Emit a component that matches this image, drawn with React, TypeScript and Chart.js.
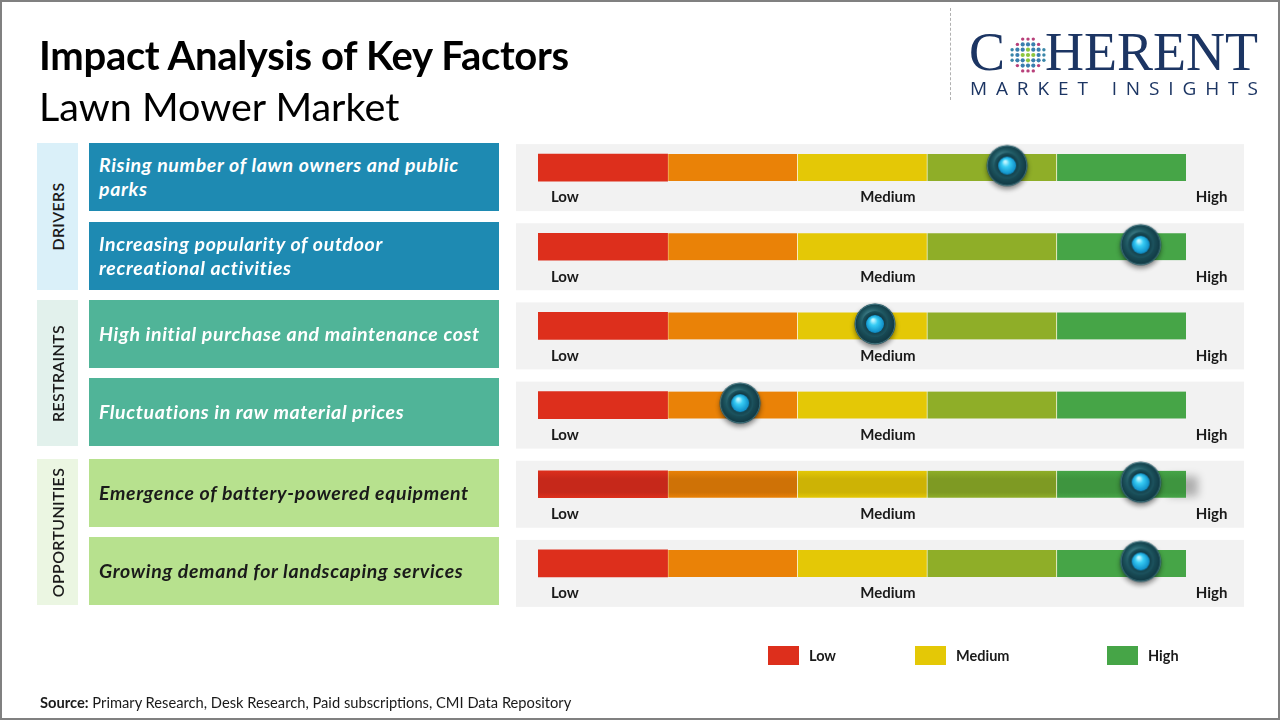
import React, { useEffect, useRef } from "react";
import { Chart, registerables } from "chart.js";

Chart.register(...registerables);

// ---------------- data ----------------
const factors = [
  "Rising number of lawn owners and public parks",
  "Increasing popularity of outdoor recreational activities",
  "High initial purchase and maintenance cost",
  "Fluctuations in raw material prices",
  "Emergence of battery-powered equipment",
  "Growing demand for landscaping services",
];
const groupNames = ["DRIVERS", "RESTRAINTS", "OPPORTUNITIES"];
const factorGroup = [0, 0, 1, 1, 2, 2];
// impact position on a 0..5 gauge (5 equal bands)
const impactValues = [3.62, 4.65, 2.6, 1.56, 4.65, 4.65];
const bandNames = ["Low", "Low-Medium", "Medium", "Medium-High", "High"];
const bandWidths = [1, 1, 1, 1, 1];
const bandColors = ["#dd2f1c", "#ea8207", "#e4c806", "#8fae28", "#46a547"];
const bandShadeColors = ["#c6281a", "#cf7206", "#cdb305", "#7e9a23", "#3e953f"];
const gaugeLabels = ["Low", "Medium", "High"];
const legendLabels = ["Low", "Medium", "High"];
const legendColors = ["#dd2f1c", "#e4c806", "#46a547"];

// ---------------- styles ----------------
const groupStyles = [
  { box: "#1e8ab2", label: "#daf0f9", text: "#ffffff" },
  { box: "#50b498", label: "#e2f1ec", text: "#ffffff" },
  { box: "#b7e18e", label: "#ebf6e2", text: "#1a1a1a" },
];
const rowTops = [143, 222, 300, 378, 459, 537];
const rowH = 68;
const shadedRow = 4;
const FONT = "Lato, 'Open Sans', sans-serif";

function makeKnob(): HTMLCanvasElement {
  const c = document.createElement("canvas");
  c.width = 54;
  c.height = 54;
  const g = c.getContext("2d")!;
  const cx = 27,
    cy = 25;
  g.save();
  g.shadowColor = "rgba(0,0,0,0.45)";
  g.shadowBlur = 5;
  g.shadowOffsetY = 3;
  g.beginPath();
  g.arc(cx, cy, 20.5, 0, Math.PI * 2);
  const outer = g.createRadialGradient(cx - 5, cy - 8, 2, cx, cy, 21);
  outer.addColorStop(0, "#4a8a94");
  outer.addColorStop(0.55, "#1f5862");
  outer.addColorStop(1, "#0f3540");
  g.fillStyle = outer;
  g.fill();
  g.restore();
  g.beginPath();
  g.arc(cx, cy, 19.8, 0, Math.PI * 2);
  g.strokeStyle = "rgba(110,170,180,0.55)";
  g.lineWidth = 1;
  g.stroke();
  g.beginPath();
  g.arc(cx, cy, 13, 0, Math.PI * 2);
  const ring = g.createRadialGradient(cx, cy - 2, 5, cx, cy, 13);
  ring.addColorStop(0, "#0a2830");
  ring.addColorStop(1, "#1d5561");
  g.fillStyle = ring;
  g.fill();
  g.beginPath();
  g.arc(cx, cy, 9, 0, Math.PI * 2);
  const ball = g.createRadialGradient(cx - 2, cy - 4, 1, cx, cy, 9.5);
  ball.addColorStop(0, "#bff5ff");
  ball.addColorStop(0.35, "#38cdf5");
  ball.addColorStop(1, "#0a86c2");
  g.fillStyle = ball;
  g.fill();
  return c;
}

function Globe() {
  const dots: React.ReactElement[] = [];
  const step = 5.3;
  for (let i = -3; i <= 3; i++) {
    for (let j = -3; j <= 3; j++) {
      const d = Math.sqrt(i * i + j * j);
      if (d > 3.25) continue;
      let col = "#8cc63f";
      if (d > 2.3) col = Math.abs(i) >= Math.abs(j) ? "#b8407a" : "#3a86a8";
      else if (d > 1.2) col = "#3a7fae";
      dots.push(
        <circle key={i + "_" + j} cx={20 + j * step} cy={20 + i * step} r={d > 2.3 ? 1.7 : 2.1} fill={col} />
      );
    }
  }
  return (
    <svg width={40} height={40} style={{ position: "absolute", left: 1008, top: 35 }}>
      {dots}
    </svg>
  );
}

export default function App() {
  const ref = useRef<HTMLCanvasElement>(null);

  useEffect(() => {
    const knob = makeKnob();
    const panelPlugin = {
      id: "panels",
      beforeDatasetsDraw(chart: any) {
        const { ctx } = chart;
        const x = chart.scales.x;
        const y = chart.scales.y;
        ctx.save();
        factors.forEach((_, i) => {
          const yc = y.getPixelForValue(i);
          ctx.fillStyle = "#f2f2f2";
          ctx.fillRect(x.left - 22, yc - 23.5, x.right - x.left + 80, 67);
          if (i === shadedRow) {
            ctx.save();
            ctx.shadowColor = "rgba(0,0,0,0.28)";
            ctx.shadowBlur = 9;
            ctx.shadowOffsetX = 12;
            ctx.shadowOffsetY = 2;
            ctx.fillStyle = "#9a9a9a";
            ctx.fillRect(x.right - 30, yc - 10, 30, 20);
            ctx.restore();
          }
          ctx.fillStyle = "#1a1a1a";
          ctx.font = `bold 15px ${FONT}`;
          ctx.textBaseline = "middle";
          const ly = yc + 30;
          ctx.textAlign = "left";
          ctx.fillText(gaugeLabels[0], x.getPixelForValue(0.1), ly);
          ctx.textAlign = "center";
          ctx.fillText(gaugeLabels[1], x.getPixelForValue(2.7), ly);
          ctx.textAlign = "right";
          ctx.fillText(gaugeLabels[2], x.getPixelForValue(5.32), ly);
        });
        ctx.restore();
      },
    };

    const datasets: any[] = bandNames.map((name, k) => ({
      type: "bar",
      label: name,
      data: factors.map(() => bandWidths[k]),
      backgroundColor: (c: any) => {
        if (c.dataIndex !== shadedRow || !c.chart.scales.y) return bandColors[k];
        const yc = c.chart.scales.y.getPixelForValue(shadedRow);
        const gr = c.chart.ctx.createLinearGradient(0, yc - 13.5, 0, yc + 13.5);
        gr.addColorStop(0, bandColors[k]);
        gr.addColorStop(0.3, bandShadeColors[k]);
        gr.addColorStop(0.8, bandShadeColors[k]);
        gr.addColorStop(1, bandColors[k]);
        return gr;
      },
      borderColor: "rgba(255,255,240,0.95)",
      borderWidth: k === 0 ? 0 : { left: 1, right: 0, top: 0, bottom: 0 },
      borderSkipped: false,
      barThickness: 27,
      stack: "gauge",
      order: 1,
    }));
    datasets.push({
      type: "scatter",
      label: "Impact",
      indexAxis: "x",
      data: factors.map((f, i) => ({ x: impactValues[i], y: f })),
      pointStyle: knob,
      pointRadius: 20,
      pointHoverRadius: 20,
      stack: "knob",
      order: -1,
    });

    const chart = new Chart(ref.current!, {
      type: "bar",
      data: { labels: factors, datasets },
      options: {
        indexAxis: "y",
        animation: false,
        responsive: false,
        devicePixelRatio: 1,
        events: [],
        layout: { padding: { left: 538, right: 94, top: 128, bottom: 117 } },
        scales: {
          x: { type: "linear", min: 0, max: 5, stacked: true, display: false },
          y: { type: "category", stacked: true, display: false },
        },
        plugins: { legend: { display: false }, tooltip: { enabled: false } },
      } as any,
      plugins: [panelPlugin],
    });
    return () => chart.destroy();
  }, []);

  return (
    <div
      style={{
        position: "fixed",
        left: 0,
        top: 0,
        width: 1280,
        height: 720,
        background: "#ffffff",
        overflow: "hidden",
        fontFamily: FONT,
      }}
    >
      <canvas
        ref={ref}
        width={1280}
        height={720}
        style={{ position: "absolute", left: 0, top: 0, width: 1280, height: 720 }}
      />

      {/* titles */}
      <div
        style={{
          position: "absolute",
          left: 39,
          top: 32,
          fontSize: 40,
          fontWeight: 700,
          color: "#000",
          lineHeight: "46px",
          whiteSpace: "nowrap",
          letterSpacing: -0.3,
        }}
      >
        Impact Analysis of Key Factors
      </div>
      <div
        style={{
          position: "absolute",
          left: 39,
          top: 83,
          fontSize: 39.5,
          fontWeight: 400,
          color: "#000",
          lineHeight: "46px",
          whiteSpace: "nowrap",
        }}
      >
        Lawn Mower Market
      </div>

      {/* logo */}
      <div
        style={{
          position: "absolute",
          left: 950,
          top: 8,
          height: 92,
          borderLeft: "1px dashed #b0b0b0",
        }}
      />
      <div
        style={{
          position: "absolute",
          left: 969,
          top: 22,
          fontFamily: "'Liberation Serif', 'DejaVu Serif', serif",
          fontSize: 54,
          color: "#1c3563",
          lineHeight: "60px",
        }}
      >
        C
      </div>
      <Globe />
      <div
        style={{
          position: "absolute",
          left: 1045,
          top: 22,
          width: 214,
          fontFamily: "'Liberation Serif', 'DejaVu Serif', serif",
          fontSize: 54,
          color: "#1c3563",
          lineHeight: "60px",
          whiteSpace: "nowrap",
        }}
      >
        HERENT
      </div>
      <div
        style={{
          position: "absolute",
          left: 970,
          top: 77,
          width: 288,
          display: "flex",
          justifyContent: "space-between",
          fontFamily: "'Open Sans', sans-serif",
          fontSize: 19,
          color: "#1c3563",
          lineHeight: "22px",
        }}
      >
        {"MARKET INSIGHTS".split("").map((ch, i) => (
          <span key={i} style={{ width: ch === " " ? 6 : undefined }}>
            {ch === " " ? "\u00a0" : ch}
          </span>
        ))}
      </div>

      {/* group labels */}
      {groupNames.map((g, gi) => {
        const idx = factorGroup.map((v, i) => (v === gi ? i : -1)).filter((v) => v >= 0);
        const top = rowTops[idx[0]];
        const bottom = rowTops[idx[idx.length - 1]] + rowH;
        return (
          <div
            key={g}
            style={{
              position: "absolute",
              left: 37,
              top,
              width: 41,
              height: bottom - top,
              background: groupStyles[gi].label,
              display: "flex",
              alignItems: "center",
              justifyContent: "center",
            }}
          >
            <div
              style={{
                transform: "rotate(-90deg)",
                whiteSpace: "nowrap",
                fontSize: 16,
                fontWeight: 600,
                color: "#1a1a1a",
                letterSpacing: 0.3,
              }}
            >
              {g}
            </div>
          </div>
        );
      })}

      {/* factor boxes */}
      {factors.map((f, i) => {
        const st = groupStyles[factorGroup[i]];
        return (
          <div
            key={f}
            style={{
              position: "absolute",
              left: 89,
              top: rowTops[i],
              width: 410,
              height: rowH,
              background: st.box,
              display: "flex",
              alignItems: "center",
              boxSizing: "border-box",
              padding: "0 12px 0 10px",
            }}
          >
            <div
              style={{
                fontSize: 19.5,
                fontWeight: 700,
                fontStyle: "italic",
                color: st.text,
                lineHeight: "24px",
                letterSpacing: 0.65,
              }}
            >
              {f}
            </div>
          </div>
        );
      })}

      {/* legend */}
      {legendLabels.map((l, i) => {
        const lefts = [768, 915, 1107];
        return (
          <div
            key={l}
            style={{
              position: "absolute",
              left: lefts[i],
              top: 646,
              display: "flex",
              alignItems: "center",
              fontSize: 14.5,
              fontWeight: 700,
              color: "#1a1a1a",
            }}
          >
            <div style={{ width: 31, height: 19, background: legendColors[i], marginRight: 10 }} />
            <span>{l}</span>
          </div>
        );
      })}

      {/* source */}
      <div
        style={{
          position: "absolute",
          left: 40,
          top: 693,
          fontSize: 14.7,
          color: "#1a1a1a",
          whiteSpace: "nowrap",
          lineHeight: "18px",
        }}
      >
        <b>Source:</b> Primary Research, Desk Research, Paid subscriptions, CMI Data Repository
      </div>

      {/* frame */}
      <div
        style={{
          position: "absolute",
          left: 0,
          top: 0,
          width: 1280,
          height: 720,
          boxSizing: "border-box",
          border: "2px solid #808080",
          pointerEvents: "none",
        }}
      />
    </div>
  );
}
